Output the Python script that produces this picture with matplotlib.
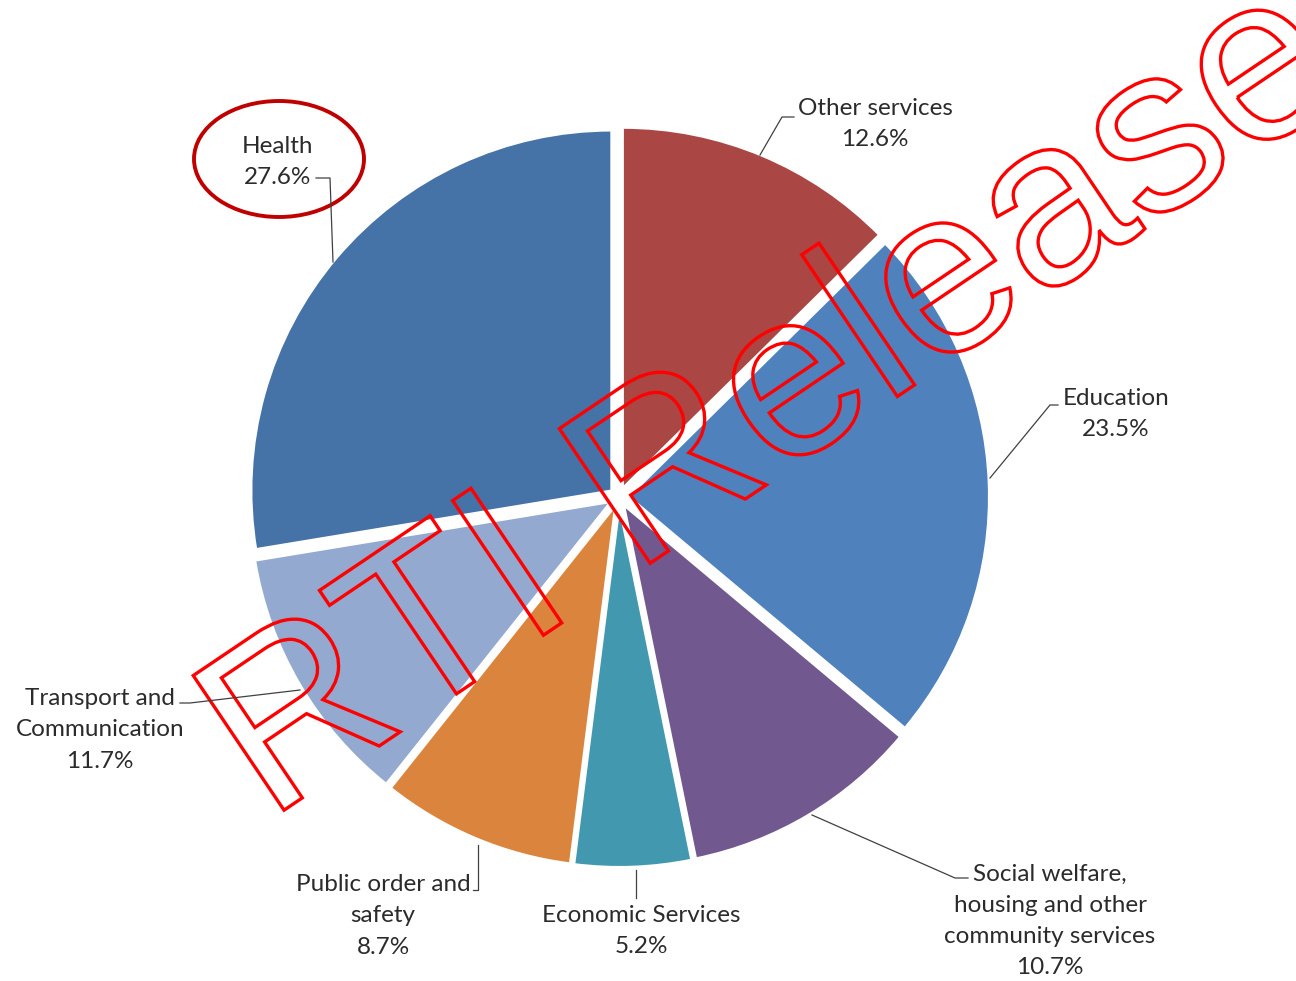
import matplotlib
matplotlib.use("Agg")
import matplotlib.pyplot as plt
from matplotlib.patches import Ellipse, PathPatch
from matplotlib.textpath import TextPath
from matplotlib.font_manager import FontProperties
from matplotlib.transforms import Affine2D

# slices, clockwise from 12 o'clock
categories = ["Other services", "Education",
              "Social welfare,\nhousing and other\ncommunity services",
              "Economic Services", "Public order and\nsafety",
              "Transport and\nCommunication", "Health"]
shares = [12.6, 23.5, 10.7, 5.2, 8.7, 11.7, 27.6]
colors = ["#AA4643", "#4F81BD", "#71588F", "#4198AF", "#DB843D", "#93A9CF", "#4572A7"]

W, H = 1296, 981
fig = plt.figure(figsize=(W / 100, H / 100), dpi=100)
ax = fig.add_axes([0, 0, 1, 1])

def Y(y):
    # picture rows run downwards
    return H - y

cx, cy, r = 619, Y(497), 360
# explode is in data units here (pixels)
ax.pie(shares, colors=colors, startangle=90, counterclock=False,
       center=(cx, cy), radius=r, explode=[10] * len(shares),
       wedgeprops=dict(edgecolor="white", linewidth=1.5))
ax.set_xlim(0, W)
ax.set_ylim(0, H)
ax.set_aspect("equal")
ax.axis("off")

txt = dict(fontsize=17.5, color="#2b2b2b", family="Lato", ha="center", va="center",
           linespacing=1.6)
# label text centre and leader line points
labels = [
    ((875, 124), [(760, 155), (782, 117), (794, 117)]),
    ((1116, 414), [(990, 478), (1050, 405), (1058, 405)]),
    ((1050, 921), [(812, 815), (955, 878), (968, 878)]),
    ((641, 931), [(636, 870), (636, 898)]),
    ((383, 916), [(478, 845), (478, 890), (473, 890)]),
    ((100, 730), [(300, 690), (190, 703), (180, 703)]),
    ((278, 162), [(333, 262), (330, 178), (316, 178)]),
]
for name, val, (pos, line) in zip(categories, shares, labels):
    ax.text(pos[0], Y(pos[1]), f"{name}\n{val}%", **txt)
    xs = [p[0] for p in line]
    ys = [Y(p[1]) for p in line]
    ax.plot(xs, ys, color="#404040", lw=0.9)

ax.add_patch(Ellipse((279, Y(159)), 170, 116, fill=False,
                     edgecolor="#C00000", lw=2.8))

# watermark
tp = TextPath((0, 0), "RTI Release", size=236,
              prop=FontProperties(family="Liberation Sans"))
tr = Affine2D().rotate_deg(34.0).translate(268, 160) + ax.transData
ax.add_patch(PathPatch(tp, transform=tr, facecolor="none",
                       edgecolor="#FF0000", lw=2.4))

fig.savefig("out.png", dpi=100)
